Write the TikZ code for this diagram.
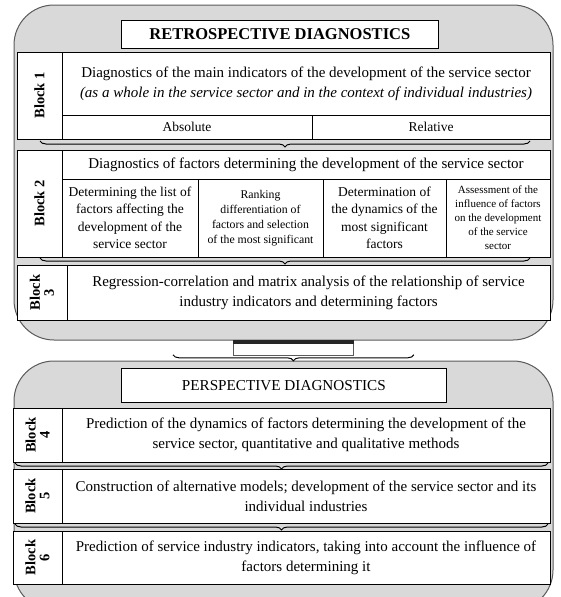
\documentclass[tikz,border=0pt]{standalone}
\usepackage{fontspec}
\setmainfont{Liberation Serif}
\usetikzlibrary{decorations.pathreplacing}
\definecolor{panelgray}{RGB}{217,217,217}
\definecolor{paneledge}{RGB}{90,90,90}
\begin{document}
\begin{tikzpicture}[x=1pt,y=-1pt,
  panel/.style={draw=paneledge, fill=panelgray, line width=1pt, rounded corners=40pt},
  cell/.style={draw=black, fill=white, line width=0.7pt, inner sep=1pt, outer sep=0pt, anchor=north west, align=center, font=\fontsize{15}{20}\selectfont},
  small/.style={font=\fontsize{13.5}{17}\selectfont},
  midsize/.style={font=\fontsize{13.5}{17.5}\selectfont},
  smaller/.style={font=\fontsize{11.8}{15}\selectfont},
  tinyfont/.style={font=\fontsize{11}{14}\selectfont},
  lab/.style={rotate=90, align=center, font=\bfseries\fontsize{14.5}{14}\selectfont},
  titlebox/.style={draw=black, fill=white, line width=0.7pt, anchor=north west},
  bracestyle/.style={draw=black, line width=1pt, decorate, decoration={brace, amplitude=6pt, mirror, aspect=0.5}},
  linkbox/.style={draw=paneledge, fill=white, line width=0.8pt, anchor=north west, inner sep=0pt}]
\useasboundingbox (0,0) rectangle (560,597);
% panels
\draw[panel] (14,5) rectangle (553,340);
\draw[panel] (14,361) rectangle (553,610);
% link between panels
\node[linkbox, minimum width=120pt, minimum height=15pt] (link) at (233,340) {};
\fill[black!85] (link.north west) rectangle ([yshift=-4pt]link.north east);
\draw[bracestyle] ([xshift=-60pt,yshift=1pt]link.south west) -- ([xshift=60pt,yshift=1pt]link.south east);
% titles
\node[titlebox, minimum width=317pt, minimum height=28pt, font=\bfseries\fontsize{16.5}{18}\selectfont] (retro) at (121,20) {RETROSPECTIVE DIAGNOSTICS};
\node[titlebox, minimum width=325pt, minimum height=34pt, font=\fontsize{15.2}{18}\selectfont] (persp) at (121,368) {PERSPECTIVE DIAGNOSTICS};
% block 1
\node[cell, minimum width=45pt, minimum height=87pt] (lab1) at (17,52) {};
\node[lab] at (lab1.center) {Block 1};
\node[cell, minimum width=488pt, minimum height=63pt] (h1) at (62,52) {Diagnostics of the main indicators of the development of the service sector\\ \itshape (as a whole in the service sector and in the context of individual industries)};
\node[cell, small, minimum width=250pt, minimum height=24pt] (abs) at (62,115) {Absolute};
\node[cell, small, minimum width=238pt, minimum height=24pt] (rel) at (312,115) {Relative};
% block 2
\node[cell, minimum width=45pt, minimum height=107pt] (lab2) at (17,150) {};
\node[lab] at (lab2.center) {Block 2};
\node[cell, minimum width=488pt, minimum height=29pt] (h2) at (62,150) {Diagnostics of factors determining the development of the service sector};
\node[cell, midsize, minimum width=136pt, minimum height=78pt] (c1) at (62,179) {Determining the list of\\ factors affecting the\\ development of the\\ service sector};
\node[cell, smaller, minimum width=125pt, minimum height=78pt] (c2) at (198,179) {Ranking\\ differentiation of\\ factors and selection\\ of the most significant};
\node[cell, midsize, minimum width=123pt, minimum height=78pt] (c3) at (323,179) {Determination of\\ the dynamics of the\\ most significant\\ factors};
\node[cell, tinyfont, minimum width=104pt, minimum height=78pt] (c4) at (446,179) {Assessment of the\\ influence of factors\\ on the development\\ of the service\\ sector};
% block 3
\node[cell, minimum width=50pt, minimum height=55pt] (lab3) at (17,265) {};
\node[lab] at (lab3.center) {Block\\ 3};
\node[cell, minimum width=483pt, minimum height=55pt] (t3) at (67,265) {Regression-correlation and matrix analysis of the relationship of service\\ industry indicators and determining factors};
% block 4
\node[cell, minimum width=49pt, minimum height=54pt] (lab4) at (13,408) {};
\node[lab] at (lab4.center) {Block\\ 4};
\node[cell, minimum width=488pt, minimum height=54pt] (t4) at (62,408) {Prediction of the dynamics of factors determining the development of the\\ service sector, quantitative and qualitative methods};
% block 5
\node[cell, minimum width=49pt, minimum height=54pt] (lab5) at (13,469) {};
\node[lab] at (lab5.center) {Block\\ 5};
\node[cell, minimum width=488pt, minimum height=54pt] (t5) at (62,469) {Construction of alternative models; development of the service sector and its\\ individual industries};
% block 6
\node[cell, minimum width=49pt, minimum height=53pt] (lab6) at (13,531) {};
\node[lab] at (lab6.center) {Block\\ 6};
\node[cell, minimum width=488pt, minimum height=53pt] (t6) at (62,531) {Prediction of service industry indicators, taking into account the influence of\\ factors determining it};
% braces between blocks
\draw[bracestyle] ([xshift=23pt,yshift=-2pt]lab1.south west) -- ([xshift=-20pt,yshift=-2pt]rel.south east);
\draw[bracestyle] ([xshift=23pt,yshift=-1pt]lab2.south west) -- ([xshift=-20pt,yshift=-1pt]c4.south east);
\draw[bracestyle] ([xshift=2pt,yshift=-1pt]lab4.south west) -- ([xshift=-2pt,yshift=-1pt]t4.south east);
\draw[bracestyle] ([xshift=2pt,yshift=-1pt]lab5.south west) -- ([xshift=-2pt,yshift=-1pt]t5.south east);
\end{tikzpicture}
\end{document}
